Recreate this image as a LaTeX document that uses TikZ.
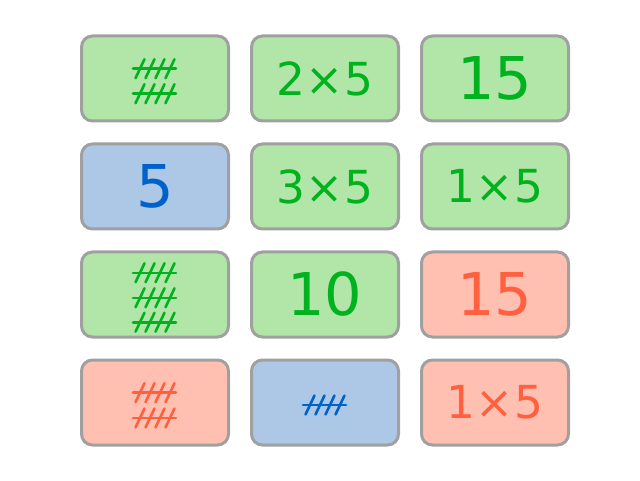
\documentclass[tikz,border=0pt]{standalone}
\usepackage{fontspec}
\setmainfont{DejaVu Sans}
\definecolor{gfill}{HTML}{B2E6A9}
\definecolor{gtext}{HTML}{00B21E}
\definecolor{bfill}{HTML}{ADC8E6}
\definecolor{btext}{HTML}{0062C8}
\definecolor{rfill}{HTML}{FFC0B2}
\definecolor{rtext}{HTML}{FF6040}
\definecolor{edge}{HTML}{A0A0A0}
\tikzset{
  card/.style={draw=edge, line width=3pt, rounded corners=11pt, minimum width=147pt, minimum height=85pt, inner sep=0pt},
  big/.style={font=\fontsize{59}{60}\selectfont},
  prod/.style={font=\fontsize{45.5}{46}\selectfont},
  tallyline/.style={line width=2.6pt, line cap=round},
}
\newcommand{\tallygroup}[3]{% center name, dy (downwards), color
  \begin{scope}[shift={(#1)}, yshift=-#2]
    \foreach \s in {-15,-5,5,15}{
      \draw[tallyline, #3] (\s pt-4.5pt, -9.5pt) -- (\s pt+4.5pt, 9.5pt);
    }
    \draw[tallyline, #3] (-22pt, 0pt) -- (21pt, 0pt);
  \end{scope}
}
\begin{document}
\begin{tikzpicture}[x=1pt, y=-1pt]
\useasboundingbox (0,0) rectangle (640,481);
% row 1
\node[card, fill=gfill] (a1) at (155,78.5) {};
\node[card, fill=gfill, prod, text=gtext] (b1) at (325,78.5) {2×5};
\node[card, fill=gfill, big, text=gtext] (c1) at (495,78.5) {15};
% row 2
\node[card, fill=bfill, big, text=btext] (a2) at (155,186.5) {5};
\node[card, fill=gfill, prod, text=gtext] (b2) at (325,186.5) {3×5};
\node[card, fill=gfill, prod, text=gtext] (c2) at (495,186.5) {1×5};
% row 3
\node[card, fill=gfill] (a3) at (155,294.5) {};
\node[card, fill=gfill, big, text=gtext] (b3) at (325,294.5) {10};
\node[card, fill=rfill, big, text=rtext] (c3) at (495,294.5) {15};
% row 4
\node[card, fill=rfill] (a4) at (155,402.5) {};
\node[card, fill=bfill] (b4) at (325,402.5) {};
\node[card, fill=rfill, prod, text=rtext] (c4) at (495,402.5) {1×5};
% tallies
\tallygroup{a1}{-9.8pt}{gtext}
\tallygroup{a1}{15.2pt}{gtext}
\tallygroup{a3}{-21.7pt}{gtext}
\tallygroup{a3}{3.3pt}{gtext}
\tallygroup{a3}{27.7pt}{gtext}
\tallygroup{a4}{-9.8pt}{rtext}
\tallygroup{a4}{15.5pt}{rtext}
\tallygroup{b4}{2.5pt}{btext}
\end{tikzpicture}
\end{document}
